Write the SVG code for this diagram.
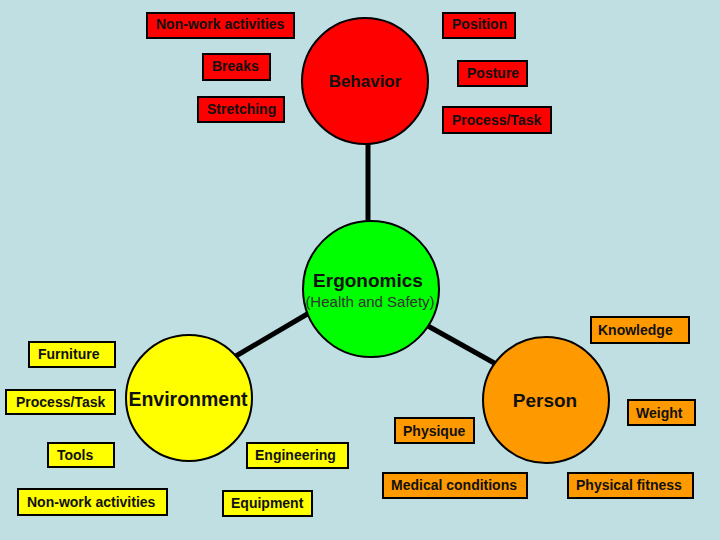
<svg xmlns="http://www.w3.org/2000/svg" width="720" height="540" viewBox="0 0 720 540">
<style>
.bg{fill:#BFDFE3}
.box{stroke:#000;stroke-width:2}
.r{fill:#FF0000}
.y{fill:#FFFF00}
.o{fill:#FF9900}
.c{stroke:#000;stroke-width:2}
.lbl{font-family:"Liberation Sans",Arial,sans-serif;font-size:14px;font-weight:bold;fill:#111}
.big{font-family:"Liberation Sans",Arial,sans-serif;font-weight:bold;fill:#111}
.conn{stroke:#000;stroke-width:5;fill:none}
</style>
<rect class="bg" x="0" y="0" width="720" height="540"/>
<g id="connectors">
<line class="conn" x1="368" y1="142" x2="368" y2="223"/>
<line class="conn" x1="309" y1="313" x2="236" y2="356"/>
<line class="conn" x1="428" y1="326" x2="496" y2="364"/>
</g>
<g id="behavior">
<circle class="c" cx="365" cy="81" r="63" fill="#FF0000"/>
<text class="big" x="365" y="87" font-size="17" text-anchor="middle">Behavior</text>
</g>
<g id="ergonomics">
<circle class="c" cx="371" cy="289" r="68" fill="#00FF00"/>
<text class="big" x="368" y="287" font-size="19" text-anchor="middle">Ergonomics</text>
<text x="370" y="307" font-family="Liberation Sans,Arial,sans-serif" font-size="15" fill="#333" text-anchor="middle">(Health and Safety)</text>
</g>
<g id="environment">
<circle class="c" cx="189" cy="398" r="63" fill="#FFFF00"/>
<text class="big" x="188" y="406" font-size="19.5" text-anchor="middle">Environment</text>
</g>
<g id="person">
<circle class="c" cx="546" cy="400" r="63" fill="#FF9900"/>
<text class="big" x="545" y="407" font-size="19" text-anchor="middle">Person</text>
</g>
<g id="b-nonwork"><rect class="box r" x="147" y="13" width="147" height="25"/><text class="lbl" x="156" y="29">Non-work activities</text></g>
<g id="b-breaks"><rect class="box r" x="203" y="54" width="67" height="26"/><text class="lbl" x="212" y="71">Breaks</text></g>
<g id="b-stretching"><rect class="box r" x="198" y="97" width="86" height="25"/><text class="lbl" x="207" y="114">Stretching</text></g>
<g id="b-position"><rect class="box r" x="443" y="13" width="72" height="25"/><text class="lbl" x="452" y="29">Position</text></g>
<g id="b-posture"><rect class="box r" x="458" y="61" width="69" height="25"/><text class="lbl" x="467" y="78">Posture</text></g>
<g id="b-process1"><rect class="box r" x="443" y="107" width="108" height="26"/><text class="lbl" x="452" y="125">Process/Task</text></g>
<g id="b-furniture"><rect class="box y" x="29" y="342" width="86" height="25"/><text class="lbl" x="38" y="359">Furniture</text></g>
<g id="b-process2"><rect class="box y" x="6" y="390" width="109" height="24"/><text class="lbl" x="16" y="407">Process/Task</text></g>
<g id="b-tools"><rect class="box y" x="48" y="443" width="66" height="24"/><text class="lbl" x="57" y="460">Tools</text></g>
<g id="b-nonwork2"><rect class="box y" x="18" y="489" width="149" height="26"/><text class="lbl" x="27" y="507">Non-work activities</text></g>
<g id="b-engineering"><rect class="box y" x="247" y="443" width="101" height="25"/><text class="lbl" x="255" y="460">Engineering</text></g>
<g id="b-equipment"><rect class="box y" x="223" y="491" width="89" height="25"/><text class="lbl" x="231" y="508">Equipment</text></g>
<g id="b-knowledge"><rect class="box o" x="591" y="317" width="98" height="26"/><text class="lbl" x="598" y="335">Knowledge</text></g>
<g id="b-weight"><rect class="box o" x="628" y="400" width="67" height="25"/><text class="lbl" x="636" y="418">Weight</text></g>
<g id="b-physique"><rect class="box o" x="395" y="418" width="79" height="25"/><text class="lbl" x="403" y="436">Physique</text></g>
<g id="b-medical"><rect class="box o" x="383" y="473" width="144" height="25"/><text class="lbl" x="391" y="490">Medical conditions</text></g>
<g id="b-fitness"><rect class="box o" x="568" y="473" width="125" height="25"/><text class="lbl" x="576" y="490">Physical fitness</text></g>
</svg>
